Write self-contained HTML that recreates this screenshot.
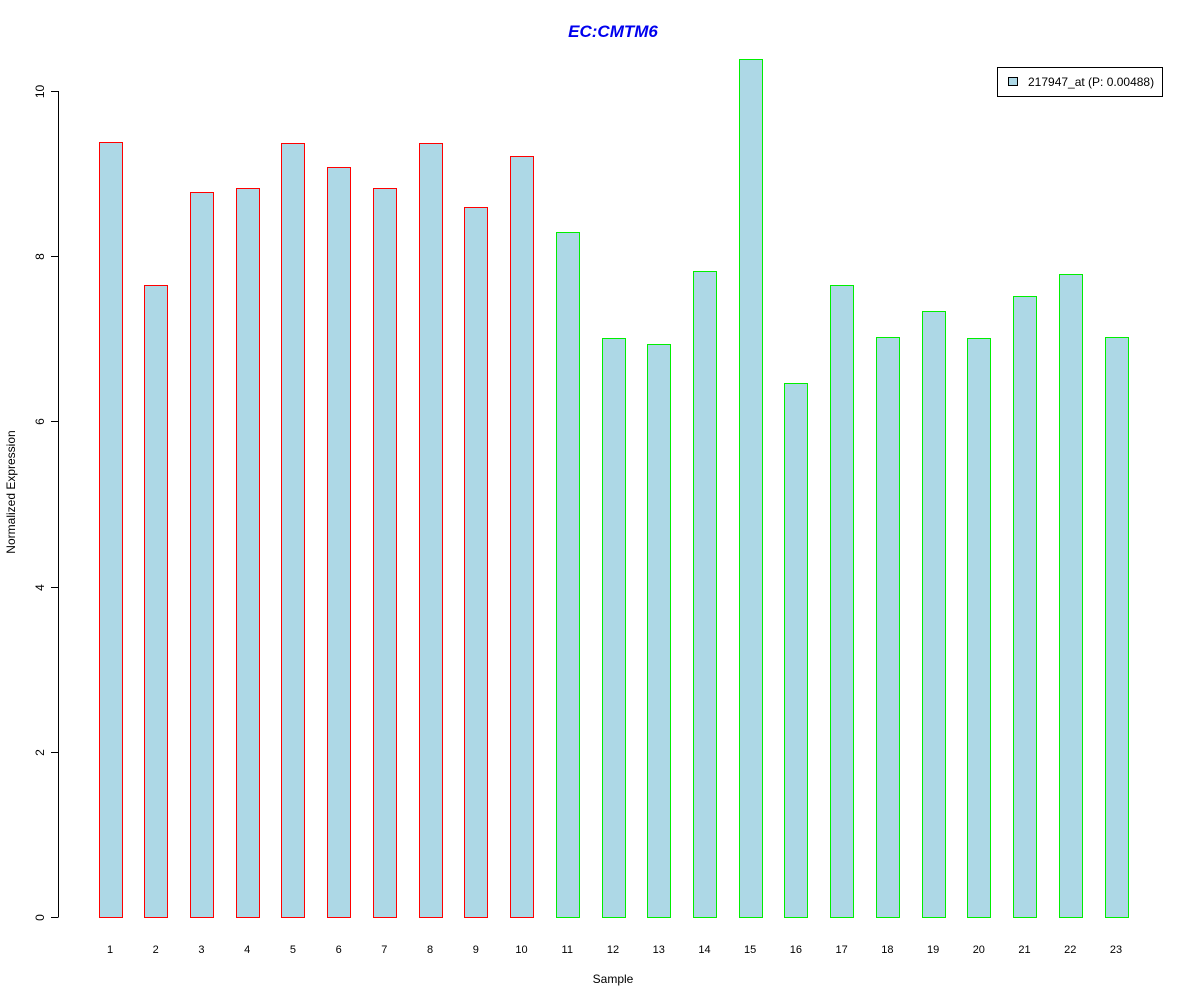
<!DOCTYPE html>
<html><head><meta charset="utf-8"><style>
html,body{margin:0;padding:0;background:#fff;}
svg{display:block;font-family:"Liberation Sans",Arial,sans-serif;}
</style></head><body>
<svg id="chart" width="1200" height="1000" viewBox="0 0 1200 1000">
<rect width="1200" height="1000" fill="#fff"/>
<text x="613" y="37" text-anchor="middle" font-size="17" font-weight="bold" font-style="italic" fill="#0000ee">EC:CMTM6</text>
<text x="613" y="983" text-anchor="middle" font-size="12">Sample</text>
<text transform="translate(15,492) rotate(-90)" text-anchor="middle" font-size="12">Normalized Expression</text>
<g id="yaxis"></g>
<g id="bars"></g>
<g id="xlabels"></g>
<g>
<rect x="997.5" y="67.5" width="165" height="29" fill="#fff" stroke="#000"/>
<rect x="1008.5" y="77.5" width="9" height="8" fill="#add8e6" stroke="#000"/>
<text x="1028" y="86" font-size="12">217947_at (P: 0.00488)</text>
</g>
</svg>
<script>
const categories = ["1","2","3","4","5","6","7","8","9","10","11","12","13","14","15","16","17","18","19","20","21","22","23"];
const values = [9.38,7.65,8.78,8.83,9.37,9.08,8.83,9.37,8.60,9.21,8.29,7.01,6.94,7.82,10.39,6.46,7.65,7.02,7.34,7.01,7.52,7.78,7.02];
const groups = ["a","a","a","a","a","a","a","a","a","a","b","b","b","b","b","b","b","b","b","b","b","b","b"];
const yTicks = [0,2,4,6,8,10];
const NS="http://www.w3.org/2000/svg";
const y0=917, yPerUnit=82.6;
function yScale(v){return y0 - v*yPerUnit;}
function xScale(i){return 110 + i*(1116-110)/(categories.length-1);}
const ya=document.getElementById('yaxis');
let ln=document.createElementNS(NS,'line');
ln.setAttribute('x1',58.5);ln.setAttribute('x2',58.5);
ln.setAttribute('y1',yScale(yTicks[0]));ln.setAttribute('y2',yScale(yTicks[yTicks.length-1]));
ln.setAttribute('stroke','#000');


ya.appendChild(ln);
yTicks.forEach(t=>{
  const y=Math.round(yScale(t))+0.5;
  const tk=document.createElementNS(NS,'line');
  tk.setAttribute('x1',51);tk.setAttribute('x2',58.5);tk.setAttribute('y1',y);tk.setAttribute('y2',y);tk.setAttribute('stroke','#000');
  
  
  ya.appendChild(tk);
  const tx=document.createElementNS(NS,'text');
  tx.setAttribute('transform','translate(44,'+y+') rotate(-90)');
  tx.setAttribute('text-anchor','middle');tx.setAttribute('font-size','12');
  tx.textContent=t;
  
  
  ya.appendChild(tx);
});
const bg=document.getElementById('bars'), xl=document.getElementById('xlabels');
values.forEach((v,i)=>{
  const cx=xScale(i), w=23;
  const r=document.createElementNS(NS,'rect');
  const top=yScale(v);
  r.setAttribute('x',Math.round(cx-w/2)+0.5);r.setAttribute('y',Math.round(top)+0.5);
  r.setAttribute('width',w);r.setAttribute('height',Math.round(y0-top));
  r.setAttribute('fill','#add8e6');
  r.setAttribute('stroke',groups[i]==='a'?'#ff0000':'#00ee00');
  
  
  bg.appendChild(r);
  const t=document.createElementNS(NS,'text');
  t.setAttribute('x',cx);t.setAttribute('y',953);t.setAttribute('text-anchor','middle');t.setAttribute('font-size','11');
  t.textContent=categories[i];
  
  
  xl.appendChild(t);
});
</script>
</body></html>
